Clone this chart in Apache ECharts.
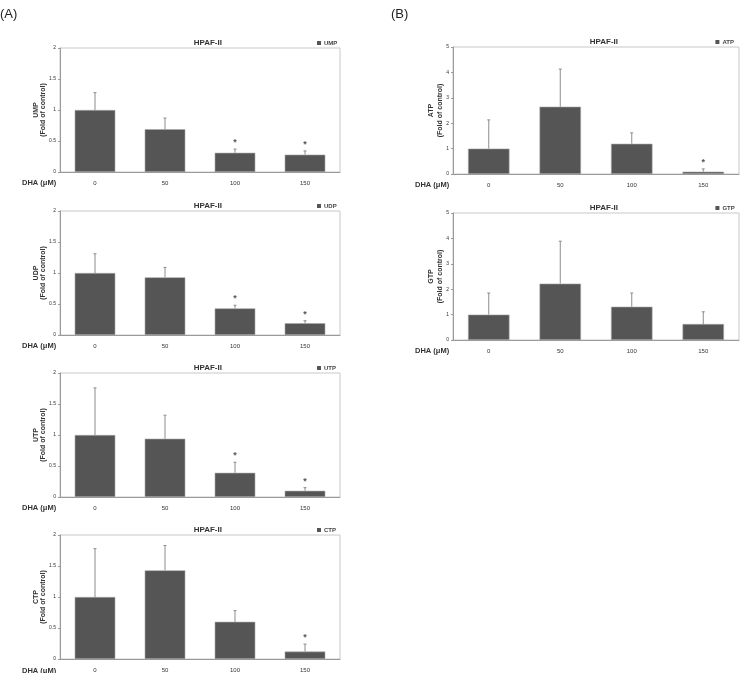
<!DOCTYPE html>
<html>
<head>
<meta charset="utf-8">
<script src="https://cdn.jsdelivr.net/npm/echarts@6/dist/echarts.min.js"></script>
<style>
  html, body { margin: 0; padding: 0; background: #fff; }
  #chart { width: 740px; height: 673px; }
</style>
</head>
<body>
<div id="chart"></div>
<script>
// 剂量分组
var doses = ['0', '50', '100', '150'];

// 各核苷酸的均值和标准差 (倍数)
var umpMean = [1.0, 0.69, 0.31, 0.28];
var umpSd   = [0.28, 0.18, 0.06, 0.06];
var umpSig  = [0, 0, 1, 1];

var udpMean = [1.0, 0.93, 0.43, 0.19];
var udpSd   = [0.31, 0.16, 0.05, 0.04];
var udpSig  = [0, 0, 1, 1];

var utpMean = [1.0, 0.94, 0.39, 0.10];
var utpSd   = [0.76, 0.38, 0.17, 0.05];
var utpSig  = [0, 0, 1, 1];

var ctpMean = [1.0, 1.43, 0.60, 0.12];
var ctpSd   = [0.78, 0.40, 0.18, 0.12];
var ctpSig  = [0, 0, 0, 1];

var atpMean = [1.0, 2.65, 1.19, 0.09];
var atpSd   = [1.13, 1.48, 0.43, 0.11];
var atpSig  = [0, 0, 0, 1];

var gtpMean = [1.0, 2.22, 1.31, 0.63];
var gtpSd   = [0.85, 1.67, 0.54, 0.48];
var gtpSig  = [0, 0, 0, 0];

var leftTicks = { max: 2, interval: 0.5 };
var rightTicks = { max: 5, interval: 1 };

// 面板布局 (左列纵轴名较紧凑)
var leftName = { gap: 14, lh: 6.5 };
var rightName = { gap: 8, lh: 9 };
var panels = [
    { name: 'UMP', mean: umpMean, sd: umpSd, sig: umpSig, left: 60, top: 48, width: 280, height: 124, ticks: leftTicks, yname: leftName },
    { name: 'UDP', mean: udpMean, sd: udpSd, sig: udpSig, left: 60, top: 211, width: 280, height: 124, ticks: leftTicks, yname: leftName },
    { name: 'UTP', mean: utpMean, sd: utpSd, sig: utpSig, left: 60, top: 373, width: 280, height: 124, ticks: leftTicks, yname: leftName },
    { name: 'CTP', mean: ctpMean, sd: ctpSd, sig: ctpSig, left: 60, top: 535, width: 280, height: 125, ticks: leftTicks, yname: leftName },
    { name: 'ATP', mean: atpMean, sd: atpSd, sig: atpSig, left: 453, top: 47, width: 286, height: 127, ticks: rightTicks, yname: rightName },
    { name: 'GTP', mean: gtpMean, sd: gtpSd, sig: gtpSig, left: 453, top: 213, width: 286, height: 127, ticks: rightTicks, yname: rightName }
];

var font = 'Liberation Sans, Arial, sans-serif';

var option = {
    animation: false,
    backgroundColor: '#fff',
    grid: [],
    xAxis: [],
    yAxis: [],
    title: [],
    legend: [],
    series: [],
    graphic: [
        { type: 'text', left: 0, top: 8, style: { text: '(A)', font: '13px ' + font, fill: '#222' } },
        { type: 'text', left: 391, top: 8, style: { text: '(B)', font: '13px ' + font, fill: '#222' } }
    ]
};

function errorRender(params, api) {
    var x = api.value(0), m = api.value(1), s = api.value(2), star = api.value(3);
    var base = api.coord([x, m]);
    var top = api.coord([x, m + s]);
    var children = [
        { type: 'line', shape: { x1: base[0], y1: base[1], x2: top[0], y2: top[1] },
          style: { stroke: '#8c8c8c', lineWidth: 1 } },
        { type: 'line', shape: { x1: top[0] - 1.5, y1: top[1], x2: top[0] + 1.5, y2: top[1] },
          style: { stroke: '#8c8c8c', lineWidth: 1 } }
    ];
    if (star) {
        children.push({ type: 'text', x: top[0], y: top[1] - 2,
            style: { text: '*', font: 'bold 9px ' + font, fill: '#555', align: 'center', verticalAlign: 'bottom' } });
    }
    return { type: 'group', children: children };
}

for (var i = 0; i < panels.length; i++) {
    var p = panels[i];

    option.grid.push({
        left: p.left, top: p.top, width: p.width, height: p.height,
        show: true, borderColor: '#c8c8c8', borderWidth: 1
    });

    option.xAxis.push({
        gridIndex: i, type: 'category', data: doses,
        axisLine: { lineStyle: { color: '#9a9a9a' } },
        axisTick: { show: false },
        axisLabel: { color: '#333', fontSize: 6, fontFamily: font, margin: 8 }
    });

    option.yAxis.push({
        gridIndex: i, type: 'value', min: 0, max: p.ticks.max, interval: p.ticks.interval,
        name: p.name + '\n(Fold of control)',
        nameLocation: 'middle', nameRotate: 90, nameGap: p.yname.gap, nameMoveOverlap: false,
        nameTextStyle: { color: '#333', fontSize: 7, fontWeight: 'bold', fontFamily: font, lineHeight: p.yname.lh },
        axisLine: { show: true, lineStyle: { color: '#9a9a9a' } },
        axisTick: { show: true, length: 2, lineStyle: { color: '#9a9a9a' } },
        axisLabel: { color: '#333', fontSize: 5, fontFamily: font, margin: 4 },
        splitLine: { show: false }
    });

    // 标题 HPAF-II
    option.title.push({
        text: 'HPAF-II', left: p.left + p.width * 0.51, top: p.top - 14, textAlign: 'center',
        textStyle: { fontSize: 8, fontWeight: 'bold', color: '#333', fontFamily: font }
    });

    option.legend.push({
        data: [p.name], left: p.left + p.width * 0.9, top: p.top - 13,
        icon: 'rect', itemWidth: 4, itemHeight: 4, itemGap: 2,
        itemStyle: { color: '#555555', borderWidth: 0 },
        textStyle: { fontSize: 6, fontWeight: 'bold', color: '#444', fontFamily: font, padding: [0, 0, 0, -2] }
    });

    // DHA (μM) 标签
    option.graphic.push({
        type: 'text', left: p.left - 38, top: p.top + p.height + 7,
        style: { text: 'DHA (\u03bcM)', font: 'bold 7.5px ' + font, fill: '#333' }
    });

    option.series.push({
        name: p.name, type: 'bar', xAxisIndex: i, yAxisIndex: i,
        data: p.mean, barCategoryGap: '42%',
        itemStyle: { color: '#555555', borderColor: '#a8a8a8', borderWidth: 0.6 }
    });

    var errData = [];
    for (var k = 0; k < p.mean.length; k++) {
        errData.push([k, p.mean[k], p.sd[k], p.sig[k]]);
    }
    option.series.push({
        type: 'custom', xAxisIndex: i, yAxisIndex: i,
        renderItem: errorRender, data: errData, z: 5, silent: true
    });
}

var myChart = echarts.init(document.getElementById('chart'));
myChart.setOption(option);
</script>
</body>
</html>
